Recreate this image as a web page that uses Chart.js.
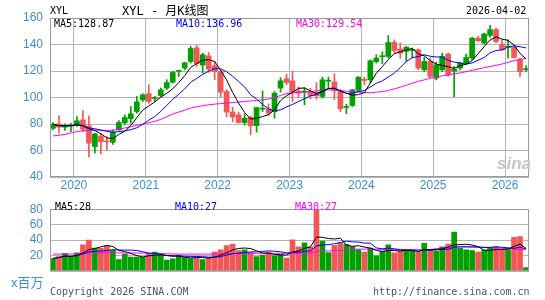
<!DOCTYPE html>
<html><head><meta charset="utf-8">
<script src="https://cdn.jsdelivr.net/npm/chart.js@4.4.1/dist/chart.umd.min.js"></script>
<style>
html,body{margin:0;padding:0;background:#fff;}
body{width:545px;height:300px;overflow:hidden;position:relative;}
canvas{position:absolute;left:0;}
.t{position:absolute;white-space:pre;line-height:1;font-family:'DejaVu Sans Mono',monospace;font-size:10px;color:#000;}
</style></head>
<body>
<canvas id="c1" width="545" height="192" style="top:0"></canvas>
<canvas id="c2" width="545" height="105" style="top:195px"></canvas>
<div class="t" style="left:50px;top:6px;">XYL</div>
<div class="t" style="left:122px;top:5px;font-size:12px;font-family:'DejaVu Sans Mono','Noto Sans CJK SC',monospace;">XYL - 月K线图</div>
<div class="t" style="left:466px;top:6px;">2026-04-02</div>
<div class="t" style="left:54px;top:19px;">MA5:128.87</div>
<div class="t" style="left:176px;top:19px;color:#0000ff;">MA10:136.96</div>
<div class="t" style="left:296px;top:19px;color:#ff00ff;">MA30:129.54</div>
<div class="t" style="left:55px;top:202px;">MA5:28</div>
<div class="t" style="left:175px;top:202px;color:#0000ff;">MA10:27</div>
<div class="t" style="left:295px;top:202px;color:#ff00ff;">MA30:27</div>
<div class="t" style="left:11px;top:276px;font-size:13px;font-family:'Liberation Sans','Noto Sans CJK SC',sans-serif;color:#3e8ed6;">x百万</div>
<div class="t" style="left:50px;top:287px;color:#555;">Copyright 2026 SINA.COM</div>
<div class="t" style="left:373px;top:287px;color:#555;">http://finance.sina.com.cn</div>
<div class="t" style="left:497px;top:155px;font-family:'Liberation Sans',sans-serif;font-size:17px;font-weight:bold;font-style:italic;color:#c4c4c4;">sina</div>
<script>
const months = ['2019-09','2019-10','2019-11','2019-12',
'2020-01','2020-02','2020-03','2020-04','2020-05','2020-06','2020-07','2020-08','2020-09','2020-10','2020-11','2020-12',
'2021-01','2021-02','2021-03','2021-04','2021-05','2021-06','2021-07','2021-08','2021-09','2021-10','2021-11','2021-12',
'2022-01','2022-02','2022-03','2022-04','2022-05','2022-06','2022-07','2022-08','2022-09','2022-10','2022-11','2022-12',
'2023-01','2023-02','2023-03','2023-04','2023-05','2023-06','2023-07','2023-08','2023-09','2023-10','2023-11','2023-12',
'2024-01','2024-02','2024-03','2024-04','2024-05','2024-06','2024-07','2024-08','2024-09','2024-10','2024-11','2024-12',
'2025-01','2025-02','2025-03','2025-04','2025-05','2025-06','2025-07','2025-08','2025-09','2025-10','2025-11','2025-12',
'2026-01','2026-02','2026-03','2026-04'];
const open = [76.8,80.1,77.6,78.4,79.1,83.1,78.6,63.0,70.8,66.9,
66.2,75.6,80.9,84.1,89.4,98.2,102.8,99.3,101.5,107.1,
111.6,119.7,122.2,127.2,137.5,124.5,131.5,123.9,119.5,104.5,
89.0,86.9,81.1,85.1,78.8,91.2,91.4,89.4,107.1,114.1,
112.6,105.0,104.0,104.5,103.8,100.8,112.3,111.8,104.5,92.5,
94.0,105.5,113.8,113.4,127.0,130.8,131.0,141.6,136.6,134.8,
135.5,136.0,120.9,127.2,114.6,120.9,132.8,120.0,122.2,126.0,
129.7,144.8,141.1,146.9,151.2,140.3,137.8,137.8,128.5,121.0];
const high = [81.1,86.1,80.1,80.6,85.6,90.2,86.1,73.0,73.0,70.5,
75.6,82.6,86.9,93.2,100.8,102.8,109.6,100.8,107.1,113.4,
119.7,120.4,126.5,138.6,139.1,133.5,134.0,127.2,120.5,106.0,
92.7,89.0,87.7,86.0,92.7,105.0,95.2,104.5,115.0,117.6,
119.7,108.0,107.5,107.0,111.3,115.4,115.4,118.0,106.0,95.0,
106.2,115.9,115.4,128.5,132.3,134.5,146.8,143.5,141.0,138.5,
137.3,136.8,130.2,129.7,126.7,133.5,133.5,123.4,126.7,132.7,
145.4,146.1,148.6,154.5,152.4,143.6,143.6,138.5,129.7,124.0];
const low = [75.6,73.0,75.1,74.3,78.1,74.3,54.9,57.9,57.4,60.4,
64.5,75.1,79.3,80.6,88.2,97.0,95.7,97.0,100.8,105.8,
110.8,115.9,120.9,126.0,123.4,118.4,119.0,113.4,100.5,85.5,
81.8,80.6,79.3,71.8,73.8,89.4,86.5,84.4,104.0,109.6,
97.0,100.0,94.5,99.0,98.7,99.5,107.5,98.5,89.4,87.7,
93.2,104.6,109.6,111.0,126.0,125.5,129.8,133.5,129.7,127.2,
129.7,120.9,119.6,114.6,113.3,119.6,115.9,100.7,120.9,125.2,
128.5,142.3,140.3,145.5,141.1,135.5,129.7,129.7,115.9,119.6];
const close = [79.8,77.6,78.6,78.8,82.4,76.1,65.5,72.5,66.7,66.5,
73.8,81.1,84.9,87.7,96.7,102.0,97.0,99.8,105.8,111.3,
118.9,120.2,126.2,137.0,125.5,132.3,121.4,119.6,104.0,89.0,
85.3,81.1,84.4,78.6,92.4,91.6,88.2,103.3,112.6,111.3,
104.0,103.3,104.8,101.5,101.3,113.4,112.8,105.5,91.5,93.0,
105.8,115.2,112.8,127.7,129.8,131.3,141.5,135.5,133.5,138.0,
136.2,122.2,127.2,115.9,124.7,131.0,117.1,121.4,126.0,130.2,
144.8,142.8,147.9,151.2,142.3,136.0,138.3,130.2,119.5,121.5];
const priceMA30 = [71.0,71.5,72.2,73.2,74.3,75.0,75.3,75.3,75.3,75.2,
75.3,76.0,77.0,78.0,79.0,80.0,81.0,82.0,83.5,85.5,
87.5,89.0,90.5,92.0,93.0,93.8,94.5,95.0,95.4,95.8,
96.2,96.6,97.0,97.4,97.8,98.3,98.8,100.0,101.5,103.0,
103.5,103.8,104.0,104.5,105.0,105.6,105.8,105.5,105.2,104.8,
104.4,104.0,103.8,103.6,104.0,104.5,105.3,106.5,107.8,109.2,
110.8,112.2,113.3,114.5,115.5,116.3,117.0,117.8,118.6,119.5,
120.5,121.5,122.5,123.4,124.3,125.3,126.5,127.8,128.8,129.5];
const volume = [16.2,18.7,22.9,18.1,23.5,34.0,40.0,29.8,29.2,32.7,
26.7,14.9,21.9,18.1,18.1,17.8,22.9,24.4,21.3,14.0,
15.9,20.6,17.5,16.2,17.5,14.9,17.5,24.4,27.3,33.0,
34.9,26.3,27.3,23.8,18.7,20.6,24.4,19.7,21.3,16.8,
40.3,31.4,36.5,31.4,80.0,38.7,23.8,33.3,36.5,34.6,
31.7,27.6,24.4,29.8,19.7,25.4,34.0,23.5,26.0,26.7,
25.4,24.4,35.9,26.7,25.4,31.4,34.9,50.5,29.2,27.3,
26.3,24.4,27.0,29.2,31.7,26.7,27.6,43.5,44.4,4.4];
const volMA30 = [21.9,21.9,22.0,22.0,22.2,23.0,23.3,23.5,23.5,23.5,
23.5,23.5,23.3,23.3,23.2,23.2,23.0,22.8,22.6,22.2,
22.0,21.9,21.9,21.9,21.9,21.9,21.9,22.0,22.2,22.5,
22.8,22.9,23.0,23.0,22.9,22.9,22.9,22.9,22.9,22.9,
22.9,22.9,23.0,23.2,25.5,26.0,26.0,26.5,26.8,27.2,
27.8,28.3,28.3,28.3,28.2,28.0,27.8,27.6,27.6,27.6,
27.6,27.5,27.6,27.8,29.0,29.5,29.8,31.5,31.8,31.8,
31.0,30.8,30.8,30.5,29.8,29.3,29.0,28.5,28.0,27.3];
const yearLabels = ['2020','2021','2022','2023','2024','2025','2026'];
const priceTicks = [40,60,80,100,120,140,160];
const volTicks = [0,20,40,60,80];

const UP = '#00a000', DOWN = '#f45656';
const TICK = '#3e8ed6', GRID = '#b4b4b4', FRAME = '#999999';
function movingAvg(arr, n){
  return arr.map((_,i)=>{const s=arr.slice(Math.max(0,i-n+1),i+1);return s.reduce((a,b)=>a+b,0)/s.length;});
}
const pts = arr => arr.map((v,i)=>({x:i,y:v}));
const dirColor = close.map((c,i)=> c>=open[i] ? UP : DOWN);
const yearTickPos = months.map((m,i)=> m.endsWith('-01') ? i-0.5 : null).filter(v=>v!==null);

const frame = {id:'frame', afterDraw(c){
  const {ctx, chartArea:a} = c; ctx.save(); ctx.strokeStyle=FRAME; ctx.lineWidth=1;
  ctx.strokeRect(Math.round(a.left)+0.5, Math.round(a.top)+0.5, Math.round(a.right)-Math.round(a.left)-1, Math.round(a.bottom)-Math.round(a.top)-1);
  ctx.restore();
}};
const tickFont = {family:"'Liberation Sans', Arial, sans-serif", size:12};
const lineDs = (arr,color)=>({type:'line', data:pts(arr), borderColor:color, borderWidth:1, pointRadius:0, tension:0, order:0});
const xScale = (show)=>({type:'linear', min:-0.5, max:months.length-0.5, offset:false, display:show,
  grid:{display:show, offset:false, color:GRID, lineWidth:1, drawTicks:false},
  border:{display:false},
  afterBuildTicks:s=>{s.ticks=yearTickPos.map(v=>({value:v}));},
  afterFit:s=>{s.height=15;},
  ticks:{autoSkip:false, maxRotation:0, padding:1, color:TICK, font:tickFont,
    callback:v=>{const k=yearTickPos.indexOf(v);return k>=0?yearLabels[k]:'';}}
});

new Chart(document.getElementById('c1'), {
  type:'bar',
  data:{datasets:[
    lineDs(movingAvg(close,5),'#000000'),
    lineDs(movingAvg(close,10),'#0000ff'),
    lineDs(priceMA30,'#ff00ff'),
    {type:'bar', data:months.map((_,i)=>({x:i,y:[low[i],high[i]]})), backgroundColor:dirColor, barThickness:1, grouped:false, order:2},
    {type:'bar', data:months.map((_,i)=>({x:i,y:[open[i],close[i]]})), backgroundColor:dirColor, barThickness:5, grouped:false, minBarLength:1, order:1}
  ]},
  options:{responsive:false, animation:false, devicePixelRatio:1,
    layout:{padding:{left:0,right:16,top:18,bottom:0}},
    plugins:{legend:{display:false}, tooltip:{enabled:false}},
    scales:{
      x:xScale(true),
      y:{type:'linear', min:40, max:160, beginAtZero:false,
        grid:{color:GRID, lineWidth:1, drawTicks:false}, border:{display:false},
        afterBuildTicks:s=>{s.ticks=priceTicks.map(v=>({value:v}));},
        afterFit:s=>{s.width=50;},
        ticks:{autoSkip:false, padding:7, color:TICK, font:tickFont}}
    }
  },
  plugins:[frame]
});

new Chart(document.getElementById('c2'), {
  type:'bar',
  data:{datasets:[
    lineDs(movingAvg(volume,5),'#000000'),
    lineDs(movingAvg(volume,10),'#0000ff'),
    lineDs(volMA30,'#ff00ff'),
    {type:'bar', data:pts(volume), backgroundColor:dirColor, barThickness:5, grouped:false, order:1}
  ]},
  options:{responsive:false, animation:false, devicePixelRatio:1,
    layout:{padding:{left:0,right:16,top:7,bottom:14}},
    plugins:{legend:{display:false}, tooltip:{enabled:false}},
    scales:{
      x:xScale(false),
      y:{type:'linear', min:0, max:80, beginAtZero:true,
        grid:{color:GRID, lineWidth:1, drawTicks:false}, border:{display:false},
        afterBuildTicks:s=>{s.ticks=volTicks.map(v=>({value:v}));},
        afterFit:s=>{s.width=50;},
        ticks:{autoSkip:false, padding:7, color:TICK, font:tickFont, callback:v=> v===0 ? '' : String(v)}}
    }
  },
  plugins:[frame]
});
</script>
</body></html>
